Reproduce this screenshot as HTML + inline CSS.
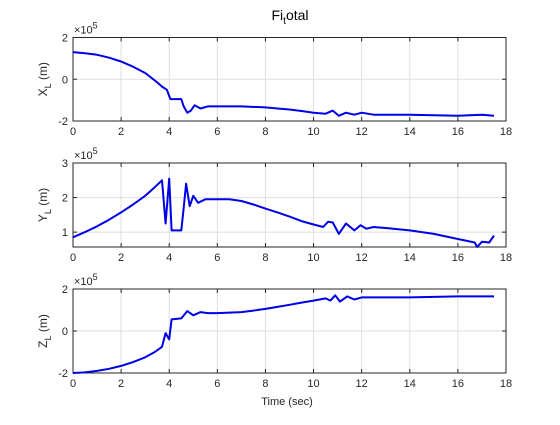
<!DOCTYPE html>
<html><head><meta charset="utf-8"><style>
body{margin:0;background:#fff;}
svg{font-family:"Liberation Sans",sans-serif;}
</style></head><body>
<svg id="c" width="560" height="420" xmlns="http://www.w3.org/2000/svg">
<rect width="560" height="420" fill="#fff"/>
<text x="290" y="20" font-size="14" text-anchor="middle" fill="#000">Fi<tspan font-size="10" dy="4">t</tspan><tspan dy="-4">otal</tspan></text>
<text x="287" y="405" font-size="11" text-anchor="middle" fill="#262626">Time (sec)</text>
</svg>
<script>
const xTicks=[0,2,4,6,8,10,12,14,16,18];
const tX=[0,0.5,1,1.5,2,2.5,3,3.5,3.7,3.9,4.05,4.5,4.6,4.75,4.9,5.05,5.3,5.6,6,7,8,8.5,9,9.5,10,10.5,10.8,11.05,11.35,11.7,12,12.5,14,16,17,17.5];
const vX=[1.3,1.25,1.17,1.03,0.85,0.6,0.3,-0.15,-0.35,-0.5,-0.95,-0.95,-1.3,-1.6,-1.5,-1.25,-1.4,-1.3,-1.3,-1.3,-1.35,-1.4,-1.45,-1.52,-1.6,-1.65,-1.5,-1.75,-1.6,-1.7,-1.6,-1.7,-1.7,-1.75,-1.7,-1.75];
const tY=[0,0.5,1,1.5,2,2.5,3,3.4,3.7,3.85,4.0,4.1,4.5,4.6,4.7,4.85,5.0,5.2,5.5,6,6.5,7,7.5,8,8.5,9,9.5,10,10.4,10.6,10.8,11.05,11.35,11.7,11.95,12.2,12.5,13,14,15,16,16.7,16.8,17,17.3,17.5];
const vY=[0.85,1.0,1.17,1.36,1.57,1.8,2.05,2.3,2.5,1.25,2.55,1.05,1.05,1.7,2.4,1.75,2.05,1.85,1.95,1.95,1.95,1.9,1.8,1.68,1.57,1.45,1.32,1.22,1.15,1.3,1.28,0.95,1.25,1.05,1.2,1.1,1.15,1.12,1.05,0.95,0.8,0.7,0.57,0.72,0.7,0.9];
const tZ=[0,0.5,1,1.5,2,2.5,3,3.4,3.7,3.85,4.0,4.1,4.5,4.75,5.0,5.3,5.6,6,7,7.5,8,8.5,9,9.5,10,10.5,10.7,10.9,11.1,11.4,11.7,12,14,16,17.5];
const vZ=[-2,-1.97,-1.9,-1.8,-1.66,-1.48,-1.25,-1.0,-0.75,-0.1,-0.4,0.55,0.6,0.95,0.75,0.9,0.85,0.85,0.9,0.97,1.05,1.15,1.25,1.35,1.45,1.55,1.45,1.7,1.4,1.65,1.5,1.6,1.6,1.65,1.65];
const panels=[
 {name:'x',lab:'X',top:37.5,bot:121,ymin:-2,ymax:2,yt:[-2,0,2],t:tX,v:vX},
 {name:'y',lab:'Y',top:163,bot:247,ymin:0.57,ymax:3,yt:[1,2,3],t:tY,v:vY},
 {name:'z',lab:'Z',top:289,bot:373,ymin:-2,ymax:2,yt:[-2,0,2],t:tZ,v:vZ}];
const L=73,R=506,NS='http://www.w3.org/2000/svg',svg=document.getElementById('c');
const sx=t=>L+(t-0)/(18-0)*(R-L);
function mk(tag,at,parent){const e=document.createElementNS(NS,tag);for(const k in at)e.setAttribute(k,at[k]);(parent||svg).appendChild(e);return e;}
panels.forEach(p=>{
 const sy=v=>p.bot-(v-p.ymin)/(p.ymax-p.ymin)*(p.bot-p.top);
 const g=mk('g',{});
 
 
 mk('rect',{x:L,y:p.top,width:R-L,height:p.bot-p.top,fill:'#fff'},g);
 xTicks.forEach(t=>{
  const x=sx(t);
  mk('line',{x1:x,x2:x,y1:p.top,y2:p.bot,stroke:'#dfdfdf','stroke-width':1},g);
  mk('line',{x1:x,x2:x,y1:p.bot,y2:p.bot-4,stroke:'#262626'},g);
  mk('line',{x1:x,x2:x,y1:p.top,y2:p.top+4,stroke:'#262626'},g);
  const tx=mk('text',{x:x,y:p.bot+14,'font-size':11,'text-anchor':'middle',fill:'#262626'},g);
  tx.textContent=t;
  
  
 });
 p.yt.forEach(v=>{
  const y=sy(v);
  mk('line',{x1:L,x2:R,y1:y,y2:y,stroke:'#dfdfdf'},g);
  mk('line',{x1:L,x2:L+4,y1:y,y2:y,stroke:'#262626'},g);
  mk('line',{x1:R,x2:R-4,y1:y,y2:y,stroke:'#262626'},g);
  const tx=mk('text',{x:L-5,y:y+4,'font-size':11,'text-anchor':'end',fill:'#262626'},g);
  tx.textContent=v;
  
  
 });
 mk('rect',{x:L,y:p.top,width:R-L,height:p.bot-p.top,fill:'none',stroke:'#262626','stroke-width':1},g);
 const ex=mk('text',{x:L+1,y:p.top-4,'font-size':11,fill:'#262626'},g);
 ex.innerHTML='×10<tspan dy="-5" font-size="9">5</tspan>';
 
 
 const cy=(p.top+p.bot)/2;
 const yl=mk('text',{x:0,y:0,'font-size':12,'text-anchor':'middle',fill:'#262626',transform:`translate(47,${cy}) rotate(-90)`},g);
 yl.innerHTML=p.lab+'<tspan font-size="9" dy="4">L</tspan><tspan dy="-4"> (m)</tspan>';
 
 
 const d=p.t.map((t,i)=>(i?'L':'M')+sx(t).toFixed(1)+','+sy(p.v[i]).toFixed(1)).join('');
 const ln=mk('path',{d:d,fill:'none',stroke:'#0000e6','stroke-width':2,'stroke-linejoin':'round'},g);
 
 
});
</script>
</body></html>
